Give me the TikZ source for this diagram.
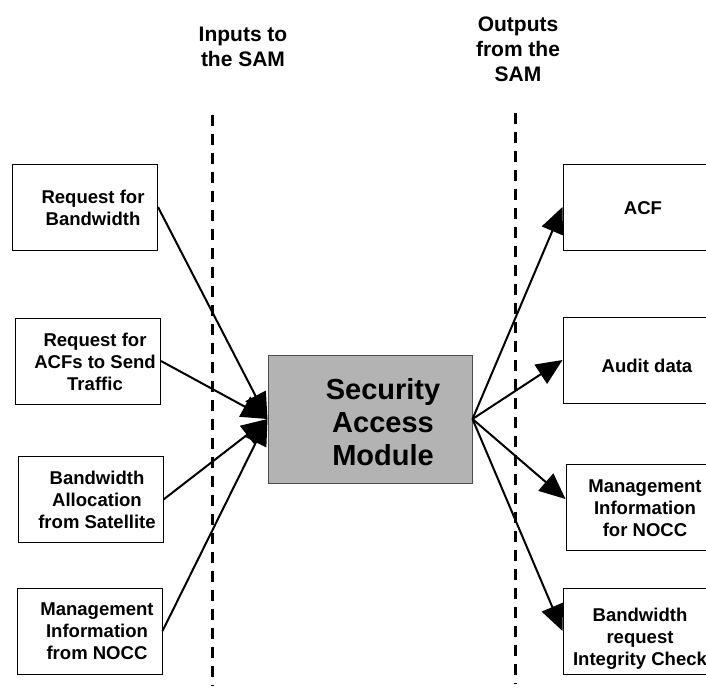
\documentclass[tikz,border=0pt]{standalone}
\usepackage{fontspec}
\setmainfont{Liberation Sans}
\usetikzlibrary{arrows.meta,calc}
\definecolor{samgray}{RGB}{179,179,179}
\begin{document}
\begin{tikzpicture}[x=0.75pt,y=-0.75pt,
  box/.style={draw=black,line width=0.75pt,minimum width=108.75pt,minimum height=64.5pt,inner sep=0pt,fill=white},
  lbl/.style={font=\fontsize{13.9pt}{16.5pt}\selectfont\bfseries,align=center,inner sep=0pt},
  head/.style={font=\fontsize{15.75pt}{18.75pt}\selectfont\bfseries,align=center,inner sep=0pt},
  divider/.style={line width=2.25pt,dash pattern=on 8.25pt off 6pt},
  flow/.style={line width=1.5pt,-{Triangle[length=19.5pt,width=17pt]}}]
\useasboundingbox (0,0) rectangle (706,690);
% headings
\node[head] (hin) at (243,47) {Inputs to\\the SAM};
\node[head] (hout) at (518,49) {Outputs\\from the\\SAM};
% dividers
\coordinate (d1t) at (212,115); \coordinate (d1b) at (212,686);
\coordinate (d2t) at (515,113); \coordinate (d2b) at (515,684);
\draw[divider] (d1t) -- (d1b);
\draw[divider] (d2t) -- (d2b);
% central module
\node[draw=black!70,line width=0.75pt,fill=samgray,minimum width=153pt,minimum height=96pt,inner sep=0pt] (sam) at (370,419) {};
\node[font=\fontsize{21.75pt}{24.75pt}\selectfont\bfseries,align=center,inner sep=0pt] (samt) at (383,422) {Security\\Access\\Module};
% left boxes
\node[box] (l1) at (85,207) {};
\node[box] (l2) at (88,361) {};
\node[box] (l3) at (90.5,499.5) {};
\node[box] (l4) at (89.5,631) {};
\node[lbl] (tl1) at (93,208) {Request for\\Bandwidth};
\node[lbl] (tl2) at (95,362) {Request for\\ACFs to Send\\Traffic};
\node[lbl] (tl3) at (97,500) {Bandwidth\\Allocation\\from Satellite};
\node[lbl] (tl4) at (97,631) {Management\\Information\\from NOCC};
% right boxes
\node[box] (r1) at (635.5,207) {};
\node[box] (r2) at (635.5,360) {};
\node[box] (r3) at (638.5,507) {};
\node[box] (r4) at (635.5,631) {};
\node[lbl] (tr1) at (643,208) {ACF};
\node[lbl] (tr2) at (647,366) {Audit data};
\node[lbl] (tr3) at (645,508) {Management\\Information\\for NOCC};
\node[lbl] (tr4) at (640,639) {Bandwidth\\request\\Integrity Check};
% connectors
\draw[flow] (l1.east) -- (sam.west);
\draw[flow] (l2.east) -- (sam.west);
\draw[flow] (l3.east) -- (sam.west);
\draw[flow] (l4.east) -- (sam.west);
\coordinate (r3in) at ($(r3.west)+(0,-8)$);
\draw[flow] (sam.east) -- (r1.west);
\draw[flow] (sam.east) -- (r2.west);
\draw[flow] (sam.east) -- (r3in);
\draw[flow] (sam.east) -- (r4.west);
\end{tikzpicture}
\end{document}
